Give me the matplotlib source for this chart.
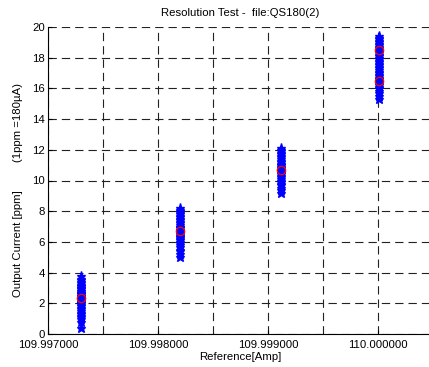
import matplotlib
matplotlib.use("Agg")
import matplotlib.pyplot as plt
from matplotlib.ticker import MultipleLocator, FormatStrFormatter

plt.rcParams["font.family"] = ["Liberation Sans", "DejaVu Sans"]

# reference current of each measurement group
ref_x = [109.99730, 109.99820, 109.99912, 110.00001]

# output readings [ppm] per group
out_y = [
    [0.4, 0.8, 1.0, 1.2, 1.3, 1.5, 1.6, 1.7, 1.8, 1.9, 2.0, 2.0, 2.1, 2.2, 2.2,
     2.3, 2.3, 2.4, 2.4, 2.5, 2.5, 2.6, 2.6, 2.7, 2.7, 2.8, 2.8, 2.9, 3.0, 3.0,
     3.1, 3.1, 3.2, 3.3, 3.4, 3.5, 3.6, 3.8, 1.1, 1.4],
    [5.0, 5.2, 5.4, 5.5, 5.7, 5.8, 5.9, 6.0, 6.1, 6.2, 6.3, 6.3, 6.4, 6.5, 6.5,
     6.6, 6.6, 6.7, 6.7, 6.8, 6.8, 6.9, 7.0, 7.0, 7.1, 7.2, 7.3, 7.4, 7.5, 7.6,
     7.7, 7.8, 7.9, 8.0, 8.1, 8.2],
    [9.2, 9.4, 9.5, 9.7, 9.8, 9.9, 10.0, 10.1, 10.2, 10.3, 10.4, 10.5, 10.5,
     10.6, 10.6, 10.7, 10.7, 10.8, 10.9, 11.0, 11.0, 11.1, 11.2, 11.3, 11.4,
     11.5, 11.6, 11.7, 11.8, 11.9, 12.0, 12.1],
    [15.3, 15.5, 15.7, 15.8, 16.0, 16.1, 16.2, 16.3, 16.4, 16.5, 16.6, 16.7,
     16.8, 16.9, 17.0, 17.1, 17.2, 17.3, 17.4, 17.5, 17.6, 17.7, 17.8, 17.9,
     18.0, 18.1, 18.2, 18.3, 18.4, 18.5, 18.6, 18.7, 18.8, 18.9, 19.0, 19.1,
     19.2, 19.3, 19.4],
]

# group means (red circles)
mean_x = [109.99730, 109.99820, 109.99912, 110.00001, 110.00001]
mean_y = [2.35, 6.7, 10.7, 18.5, 16.5]

fig = plt.figure(figsize=(4.29, 3.67), dpi=100)
ax = fig.add_axes([48 / 429, 1 - 334 / 367, 385 / 429, 307 / 367])

grid_style = dict(color="#222222", linestyle=(0, (7.5, 4.5)), linewidth=0.8)
ax.grid(True, which="major", **grid_style)
ax.xaxis.grid(True, which="minor", **grid_style)
ax.set_axisbelow(True)

for x, ys in zip(ref_x, out_y):
    ax.plot([x] * len(ys), ys, linestyle="none", marker="*", color="#0000ff",
            markersize=6.5, markeredgewidth=1.0)
ax.plot(mean_x, mean_y, linestyle="none", marker="o", markerfacecolor="none",
        markeredgecolor="#ff0000", markersize=6, markeredgewidth=0.9)

ax.set_xlim(109.997, 110.0005)
ax.set_ylim(0, 20)
ax.xaxis.set_major_locator(MultipleLocator(0.001))
ax.xaxis.set_minor_locator(MultipleLocator(0.0005))
ax.xaxis.set_major_formatter(FormatStrFormatter("%.6f"))
ax.yaxis.set_major_locator(MultipleLocator(2))

for side in ("top", "right"):
    ax.spines[side].set_visible(False)
ax.spines["left"].set_linewidth(0.8)
ax.spines["bottom"].set_linewidth(0.8)
ax.tick_params(which="both", direction="in", length=3, labelsize=8.2)
ax.tick_params(axis="x", pad=4)
ax.tick_params(axis="y", pad=2)
ax.tick_params(which="minor", length=0)

ax.set_title("Resolution Test -  file:QS180(2)", fontsize=8.2, pad=8)
ax.set_xlabel("Reference[Amp]", fontsize=8.2, labelpad=2)
ax.set_ylabel("Output Current [ppm]         (1ppm =180\u00b5A)", fontsize=8.2)
ax.yaxis.set_label_coords(-25 / 385, 0.47)

fig.savefig("out.png", dpi=100)
